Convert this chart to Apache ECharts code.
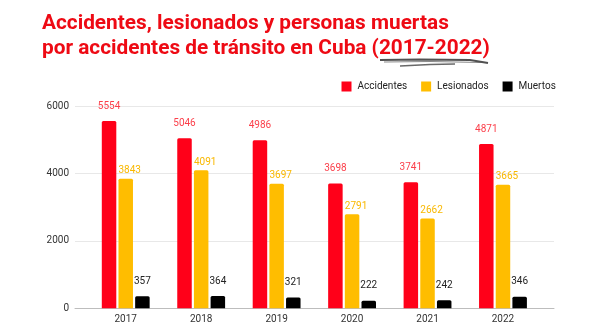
<!DOCTYPE html>
<html>
<head>
<meta charset="utf-8">
<script src="https://cdn.jsdelivr.net/npm/echarts@6/dist/echarts.min.js"></script>
<style>
html,body{margin:0;padding:0;background:#fff;}
#chart{width:593px;height:333px;}
</style>
</head>
<body>
<div id="chart"></div>
<script>
var titleText = 'Accidentes, lesionados y personas muertas\npor accidentes de tránsito en Cuba (2017-2022)';
var years = ['2017', '2018', '2019', '2020', '2021', '2022'];
var accidentes = [5554, 5046, 4986, 3698, 3741, 4871];
var lesionados = [3843, 4091, 3697, 2791, 2662, 3665];
var muertos = [357, 364, 321, 222, 242, 346];
var yTicks = [0, 2000, 4000, 6000];

var FONT = 'Roboto, Arial, sans-serif';
var chart = echarts.init(document.getElementById('chart'), null, {renderer: 'canvas'});

function barSeries(name, data, color, labelColor, dist, offX) {
  return {
    name: name, type: 'bar', xAxisIndex: 1, yAxisIndex: 1,
    data: data, barWidth: 14.5, barGap: '15%',
    itemStyle: {color: color, borderRadius: [1.5, 1.5, 0, 0]},
    label: {show: true, position: 'top', distance: dist, offset: [offX, 0],
      color: labelColor, fontSize: 10, fontFamily: FONT}
  };
}

chart.setOption({
  animation: false,
  backgroundColor: '#fff',
  title: {
    text: titleText, left: 42, top: 11, padding: 0,
    textStyle: {color: '#ee0a14', fontSize: 20.8, fontWeight: 'bold', fontFamily: FONT, lineHeight: 25}
  },
  legend: {
    left: 341.5, top: 81.5, padding: 0, itemWidth: 10, itemHeight: 10, itemGap: 14, icon: 'rect',
    textStyle: {color: '#222', fontSize: 10, fontFamily: FONT, padding: [0, 0, 0, 1]},
    data: ['Accidentes', 'Lesionados', 'Muertos']
  },
  graphic: [
    {type: 'polyline', shape: {points: [[380, 60], [420, 59.5], [470, 60], [488, 63]]},
     style: {stroke: '#333', lineWidth: 2, fill: null, opacity: 0.85}},
    {type: 'polyline', shape: {points: [[384, 62], [430, 61.5], [482, 62.5]]},
     style: {stroke: '#555', lineWidth: 1, fill: null, opacity: 0.7}},
    {type: 'polyline', shape: {points: [[400, 66], [430, 64.5], [455, 64]]},
     style: {stroke: '#444', lineWidth: 1.5, fill: null, opacity: 0.8}}
  ],
  grid: [
    {left: 75, right: 39, top: 106, height: 202.3},
    {left: 88, right: 52.3, top: 106, height: 202.3}
  ],
  xAxis: [
    {gridIndex: 0, type: 'value', min: 0, max: 1, axisLine: {show: true, lineStyle: {color: '#bdbdbd', width: 1}},
     axisTick: {show: false}, axisLabel: {show: false}, splitLine: {show: false}},
    {gridIndex: 1, type: 'category', data: years, axisLine: {show: false}, axisTick: {show: false},
     axisLabel: {color: '#333', fontSize: 10, fontFamily: FONT, margin: 6}}
  ],
  yAxis: [
    {gridIndex: 0, type: 'value', min: yTicks[0], max: yTicks[yTicks.length - 1], interval: 2000,
     axisLine: {show: false}, axisTick: {show: false},
     axisLabel: {color: '#333', fontSize: 10, fontFamily: FONT, margin: 6, formatter: function (v) { return String(v); }},
     splitLine: {lineStyle: {color: '#e8e8e8', width: 1}}},
    {gridIndex: 1, type: 'value', min: yTicks[0], max: yTicks[yTicks.length - 1], interval: 2000, show: false}
  ],
  series: [
    barSeries('Accidentes', accidentes, '#ff0019', '#fb3f4a', 10, 0),
    barSeries('Lesionados', lesionados, '#ffbd00', '#f9b800', 3, 4),
    barSeries('Muertos', muertos, '#000000', '#222222', 10, 0)
  ]
});
</script>
</body>
</html>
